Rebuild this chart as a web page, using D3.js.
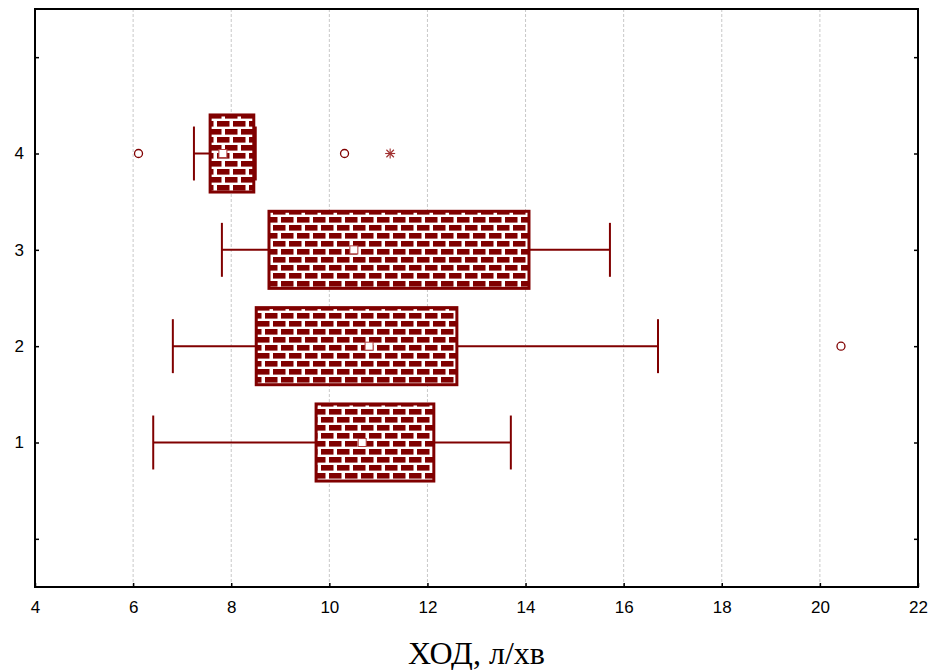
<!DOCTYPE html>
<html>
<head>
<meta charset="utf-8">
<script src="https://cdn.jsdelivr.net/npm/d3@7"></script>
<style>
  html, body { margin: 0; padding: 0; background: #fff; }
  svg { display: block; }
</style>
</head>
<body>
<svg id="chart" width="933" height="670"></svg>
<script>
// Groups and their box-plot statistics (ХОД, л/хв)
const groups = [1, 2, 3, 4];
const q1 = [9.73, 8.51, 8.77, 7.57];
const q3 = [12.13, 12.6, 14.07, 8.46];
const whiskerLow = [6.41, 6.81, 7.81, 7.24];
const whiskerHigh = [13.7, 16.7, 15.72, 8.5];
const medians = [10.67, 10.81, 10.5, 7.83];
const outlierGroups = [2, 4, 4];
const outlierValues = [20.43, 6.11, 10.31];
const extremeGroups = [4];
const extremeValues = [11.24];
const xTicks = [4, 6, 8, 10, 12, 14, 16, 18, 20, 22];
const yTicks = [0, 1, 2, 3, 4, 5];
const yLabels = ["", "1", "2", "3", "4", ""];
const axisTitle = "ХОД, л/хв";

const C = "#800000";
const svg = d3.select("#chart");
const margin = { left: 35, right: 15, top: 9, bottom: 83 };
const W = 933, H = 670;
const x = d3.scaleLinear().domain([4, 22]).range([margin.left, W - margin.right]);
const y = d3.scaleLinear().domain([-0.5, 5.5]).range([H - margin.bottom, margin.top]);
const boxHalf = 0.4, capHalf = 0.28;

// brick hatch fill
const defs = svg.append("defs");
const pat = defs.append("pattern")
  .attr("id", "brick").attr("patternUnits", "userSpaceOnUse")
  .attr("width", 16).attr("height", 16);
pat.append("rect").attr("width", 16).attr("height", 16).attr("fill", "#fff");
pat.append("rect").attr("x", 1).attr("y", 1).attr("width", 12.5).attr("height", 5.6).attr("fill", C);
pat.append("rect").attr("x", 9).attr("y", 9).attr("width", 12.5).attr("height", 5.6).attr("fill", C);
pat.append("rect").attr("x", -7).attr("y", 9).attr("width", 12.5).attr("height", 5.6).attr("fill", C);

// vertical dashed grid
svg.append("g").selectAll("line")
  .data(xTicks.filter(d => d > 4 && d < 22))
  .join("line")
  .attr("x1", d => x(d)).attr("x2", d => x(d))
  .attr("y1", y(5.5)).attr("y2", y(-0.5))
  .attr("stroke", "#c8c8c8").attr("stroke-width", 1)
  .attr("stroke-dasharray", "3,2");

// axes
const fontFam = "Liberation Sans, Arial, sans-serif";
const gx = svg.append("g").attr("transform", `translate(0,${y(-0.5)})`)
  .call(d3.axisBottom(x).tickValues(xTicks).tickSize(-4).tickPadding(14));
const gy = svg.append("g").attr("transform", `translate(${x(4)},0)`)
  .call(d3.axisLeft(y).tickValues(yTicks).tickSize(-4).tickPadding(11)
    .tickFormat((d, i) => yLabels[i]));
const gr = svg.append("g").attr("transform", `translate(${x(22)},0)`)
  .call(d3.axisRight(y).tickValues(yTicks).tickSize(-4).tickFormat(""));
[gx, gy, gr].forEach(g => {
  g.attr("font-size", null).attr("font-family", null);
  g.select(".domain").remove();
  g.selectAll(".tick line").attr("stroke", "#000").attr("stroke-width", 1.5);
  g.selectAll(".tick text")
    .style("font-family", fontFam).style("font-size", "17px").attr("fill", "#000");
});

// frame
svg.append("rect")
  .attr("x", x(4)).attr("y", y(5.5))
  .attr("width", x(22) - x(4)).attr("height", y(-0.5) - y(5.5))
  .attr("fill", "none").attr("stroke", "#000").attr("stroke-width", 2);

// box plots
const plot = svg.append("g");
groups.forEach((g, i) => {
  const cy = y(g);
  const halfCap = y(0) - y(capHalf);
  // whisker stems
  plot.append("line").attr("x1", x(whiskerLow[i])).attr("x2", x(q1[i]))
    .attr("y1", cy).attr("y2", cy).attr("stroke", C).attr("stroke-width", 2);
  plot.append("line").attr("x1", x(q3[i])).attr("x2", x(whiskerHigh[i]))
    .attr("y1", cy).attr("y2", cy).attr("stroke", C).attr("stroke-width", 2);
  // caps
  [whiskerLow[i], whiskerHigh[i]].forEach(v => {
    plot.append("line").attr("x1", x(v)).attr("x2", x(v))
      .attr("y1", cy - halfCap).attr("y2", cy + halfCap)
      .attr("stroke", C).attr("stroke-width", 2);
  });
  // box
  plot.append("rect")
    .attr("x", x(q1[i])).attr("width", x(q3[i]) - x(q1[i]))
    .attr("y", y(g + boxHalf)).attr("height", y(g - boxHalf) - y(g + boxHalf))
    .attr("fill", "url(#brick)").attr("stroke", C).attr("stroke-width", 3);
  // median marker
  plot.append("rect")
    .attr("x", x(medians[i]) - 4).attr("y", cy - 4)
    .attr("width", 8).attr("height", 8)
    .attr("fill", "#fff").attr("stroke", "#b04040").attr("stroke-width", 1);
});

// outliers
plot.selectAll("circle.out")
  .data(outlierValues.map((v, i) => ({ g: outlierGroups[i], v })))
  .join("circle").attr("class", "out")
  .attr("cx", d => x(d.v)).attr("cy", d => y(d.g)).attr("r", 4)
  .attr("fill", "#fff").attr("stroke", C).attr("stroke-width", 1.3);

// extremes
extremeValues.forEach((v, i) => {
  const cx = x(v), cy = y(extremeGroups[i]), s = 5;
  const gS = plot.append("g").attr("stroke", "#a03030").attr("stroke-width", 1.1);
  gS.append("line").attr("x1", cx).attr("x2", cx).attr("y1", cy - s).attr("y2", cy + s);
  gS.append("line").attr("x1", cx - s).attr("x2", cx + s).attr("y1", cy).attr("y2", cy);
  gS.append("line").attr("x1", cx - s * 0.75).attr("x2", cx + s * 0.75).attr("y1", cy - s * 0.75).attr("y2", cy + s * 0.75);
  gS.append("line").attr("x1", cx - s * 0.75).attr("x2", cx + s * 0.75).attr("y1", cy + s * 0.75).attr("y2", cy - s * 0.75);
});

// axis title
svg.append("text")
  .attr("x", (x(4) + x(22)) / 2).attr("y", 664)
  .attr("text-anchor", "middle")
  .attr("font-family", "Liberation Serif, Times New Roman, serif")
  .attr("font-size", 32).attr("fill", "#000")
  .text(axisTitle);
</script>
</body>
</html>
